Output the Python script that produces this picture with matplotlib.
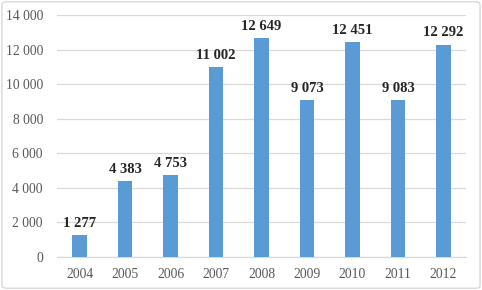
import matplotlib
matplotlib.use("Agg")
import matplotlib.pyplot as plt
from matplotlib.patches import FancyBboxPatch

years = ["2004", "2005", "2006", "2007", "2008", "2009", "2010", "2011", "2012"]
values = [1277, 4383, 4753, 11002, 12649, 9073, 12451, 9083, 12292]
yticks = [0, 2000, 4000, 6000, 8000, 10000, 12000, 14000]

def fmt(v):
    return f"{v:,}".replace(",", " ")

plt.rcParams['font.family'] = ['Liberation Serif', 'DejaVu Serif']

fig = plt.figure(figsize=(4.82, 2.90), dpi=100)
ax = fig.add_axes([0.118, 0.114, 0.849, 0.834])

x = list(range(len(years)))
ax.bar(x, values, width=0.32, color="#5B9BD5", zorder=3)
for xi, v in zip(x, values):
    ax.text(xi, v + 300, fmt(v), ha="center", va="bottom", fontsize=10.5,
            fontweight="bold", color="#262626")

ax.set_ylim(0, 14000)
ax.set_xlim(-0.5, len(years) - 0.5)
ax.set_yticks(yticks)
ax.set_yticklabels([fmt(t) for t in yticks])
ax.set_xticks(x)
ax.set_xticklabels(years)
ax.tick_params(axis="both", length=0, labelsize=9.8, labelcolor="#595959")
ax.tick_params(axis="y", pad=10)
ax.tick_params(axis="x", pad=8)
ax.grid(axis="y", color="#D9D9D9", linewidth=0.9, zorder=0)
for s in ["top", "right", "left"]:
    ax.spines[s].set_visible(False)
ax.spines["bottom"].set_color("#D9D9D9")
ax.spines["bottom"].set_linewidth(0.9)

border = FancyBboxPatch((0.004, 0.006), 0.992, 0.988, boxstyle="round,pad=0,rounding_size=0.01",
                        transform=fig.transFigure, fill=False, edgecolor="#D9D9D9", linewidth=1.0)
fig.patches.append(border)

fig.savefig("out.png", dpi=100)
